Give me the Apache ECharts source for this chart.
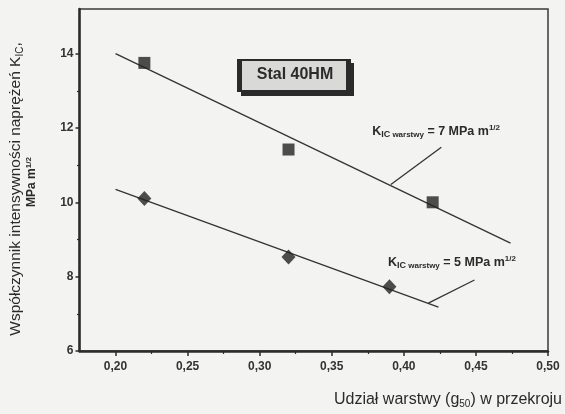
<!DOCTYPE html>
<html>
<head>
<meta charset="utf-8">
<script src="https://cdn.jsdelivr.net/npm/echarts@6/dist/echarts.min.js"></script>
<style>
  html, body { margin: 0; padding: 0; background: #f3f3f1; }
  #chart { width: 565px; height: 414px; }
</style>
</head>
<body>
<div id="chart"></div>
<script>
// Measured points: square markers (upper set) and diamond markers (lower set)
const squareX = [0.22, 0.32, 0.42];
const squareY = [13.75, 11.42, 10.0];
const diamondX = [0.22, 0.32, 0.39];
const diamondY = [10.1, 8.53, 7.73];

// Trend lines (end points) and the callout leaders
const upperFit = [[0.20, 14.0], [0.474, 8.9]];
const lowerFit = [[0.20, 10.35], [0.424, 7.18]];
const upperLeader = [[0.391, 10.48], [0.426, 11.48]];
const lowerLeader = [[0.417, 7.29], [0.449, 7.91]];

// Axis ticks and labels
const xMajorTicks = [0.20, 0.25, 0.30, 0.35, 0.40, 0.45, 0.50];
const xMinorTicks = [0.225, 0.275, 0.325, 0.375, 0.425, 0.475];
const yMajorTicks = [6, 8, 10, 12, 14];
const yMinorTicks = [7, 9, 11, 13];

// Callout anchors (data coordinates of the text's left middle)
const upperNoteAt = [0.378, 11.9];
const lowerNoteAt = [0.389, 8.38];
const upperNoteValue = '7';
const lowerNoteValue = '5';

const ink = '#2b2b2b';
const font = '"Liberation Sans", Arial, sans-serif';

const chart = echarts.init(document.getElementById('chart'));

function pairs(xs, ys) { return xs.map((x, i) => [x, ys[i]]); }
const commaFmt = v => v.toFixed(2).replace('.', ',');

const baseX = { type: 'value', min: 0.175, max: 0.5, position: 'bottom', splitLine: { show: false } };
const baseY = { type: 'value', min: 6, max: 15.2, position: 'left', splitLine: { show: false } };

const option = {
  backgroundColor: '#f3f3f1',
  animation: false,
  grid: {
    left: 79.5, right: 17, top: 9, bottom: 63,
    show: true, borderColor: '#3a3a3a', borderWidth: 1.5, backgroundColor: 'transparent'
  },
  xAxis: [
    Object.assign({}, baseX, {
      axisLine: { show: true, lineStyle: { color: ink, width: 2.5 } },
      axisTick: { show: true, inside: false, length: 5, customValues: xMajorTicks, lineStyle: { color: ink, width: 1.5 } },
      axisLabel: { customValues: xMajorTicks, formatter: commaFmt, color: '#333', fontFamily: font, fontSize: 12, fontWeight: 'bold', margin: 10 }
    }),
    Object.assign({}, baseX, {
      axisLine: { show: false },
      axisTick: { show: true, inside: false, length: 3, customValues: xMinorTicks, lineStyle: { color: ink, width: 1.2 } },
      axisLabel: { show: false }
    })
  ],
  yAxis: [
    Object.assign({}, baseY, {
      axisLine: { show: true, lineStyle: { color: ink, width: 2.5 } },
      axisTick: { show: true, inside: false, length: 4, customValues: yMajorTicks, lineStyle: { color: ink, width: 1.5 } },
      axisLabel: { customValues: yMajorTicks, color: '#333', fontFamily: font, fontSize: 12, fontWeight: 'bold', margin: 6 }
    }),
    Object.assign({}, baseY, {
      axisLine: { show: false },
      axisTick: { show: true, inside: false, length: 2.5, customValues: yMinorTicks, lineStyle: { color: ink, width: 1.2 } },
      axisLabel: { show: false }
    })
  ],
  series: [
    { type: 'line', data: upperFit, symbol: 'none', lineStyle: { color: '#333', width: 1.3 }, z: 2 },
    { type: 'line', data: lowerFit, symbol: 'none', lineStyle: { color: '#333', width: 1.3 }, z: 2 },
    { type: 'line', data: upperLeader, symbol: 'none', lineStyle: { color: '#333', width: 1.3 }, z: 2 },
    { type: 'line', data: lowerLeader, symbol: 'none', lineStyle: { color: '#333', width: 1.3 }, z: 2 },
    { type: 'scatter', data: pairs(squareX, squareY), symbol: 'rect', symbolSize: 12, itemStyle: { color: '#222' }, z: 3 },
    { type: 'scatter', data: pairs(diamondX, diamondY), symbol: 'diamond', symbolSize: [14, 15], itemStyle: { color: '#222' }, z: 3 }
  ]
};
chart.setOption(option);

// Rich-text styles for subscripts / superscripts
const noteRich = {
  k: { fontSize: 12.5, fontWeight: 'bold', fontFamily: font, fill: ink, lineHeight: 15, verticalAlign: 'middle' },
  ic: { fontSize: 9, fontWeight: 'bold', fontFamily: font, fill: ink, lineHeight: 9, verticalAlign: 'bottom' },
  w: { fontSize: 8, fontWeight: 'bold', fontFamily: font, fill: ink, lineHeight: 8, verticalAlign: 'bottom' },
  sup: { fontSize: 8, fontWeight: 'bold', fontFamily: font, fill: ink, lineHeight: 8, verticalAlign: 'top' }
};
function noteText(v) {
  return '{k|K}{ic|IC}{w| warstwy}{k| = ' + v + ' MPa m}{sup|1/2}';
}

const up = chart.convertToPixel({ gridIndex: 0 }, upperNoteAt);
const lo = chart.convertToPixel({ gridIndex: 0 }, lowerNoteAt);

chart.setOption({
  graphic: [
    // Material label box
    { type: 'rect', shape: { x: 241, y: 63, width: 113, height: 33 }, style: { fill: '#2a2a2a' }, z: 10 },
    { type: 'rect', shape: { x: 238, y: 60, width: 112, height: 31 }, style: { fill: '#d9d9d7', stroke: '#2a2a2a', lineWidth: 2 }, z: 11 },
    { type: 'rect', shape: { x: 238, y: 60, width: 4, height: 31 }, style: { fill: '#2a2a2a' }, z: 12 },
    { type: 'rect', shape: { x: 346, y: 60, width: 5, height: 31 }, style: { fill: '#2a2a2a' }, z: 12 },
    { type: 'text', x: 295, y: 75, z: 13,
      style: { text: 'Stal 40HM', fontFamily: font, fontSize: 16, fontWeight: 'bold', fill: ink, align: 'center', verticalAlign: 'middle' } },

    // Callouts
    { type: 'text', x: up[0], y: up[1], z: 13,
      style: { text: noteText(upperNoteValue), rich: noteRich, align: 'left', verticalAlign: 'middle' } },
    { type: 'text', x: lo[0], y: lo[1], z: 13,
      style: { text: noteText(lowerNoteValue), rich: noteRich, align: 'left', verticalAlign: 'middle' } },

    // Y axis title (two lines, rotated)
    { type: 'text', x: 16, y: 189, rotation: Math.PI / 2, z: 13,
      style: {
        text: '{s|Współczynnik intensywności naprężeń K}{sub|IC}{s|,}',
        align: 'center', verticalAlign: 'middle',
        rich: {
          s: { fontFamily: font, fontSize: 15.5, fill: ink, lineHeight: 18, verticalAlign: 'middle' },
          sub: { fontFamily: font, fontSize: 10, fill: ink, lineHeight: 10, verticalAlign: 'bottom' }
        }
      } },
    { type: 'text', x: 32, y: 182, rotation: Math.PI / 2, z: 13,
      style: {
        text: '{s|MPa m}{sup|1/2}',
        align: 'center', verticalAlign: 'middle',
        rich: {
          s: { fontFamily: font, fontSize: 12, fontWeight: 'bold', fill: ink, lineHeight: 14, verticalAlign: 'middle' },
          sup: { fontFamily: font, fontSize: 8, fontWeight: 'bold', fill: ink, lineHeight: 8, verticalAlign: 'top' }
        }
      } },

    // X axis title
    { type: 'text', x: 562, y: 400, z: 13,
      style: {
        text: '{s|Udział warstwy (g}{sub|50}{s|) w przekroju}',
        align: 'right', verticalAlign: 'middle',
        rich: {
          s: { fontFamily: font, fontSize: 16, fill: ink, lineHeight: 19, verticalAlign: 'middle' },
          sub: { fontFamily: font, fontSize: 10, fill: ink, lineHeight: 10, verticalAlign: 'bottom' }
        }
      } }
  ]
});
</script>
</body>
</html>
